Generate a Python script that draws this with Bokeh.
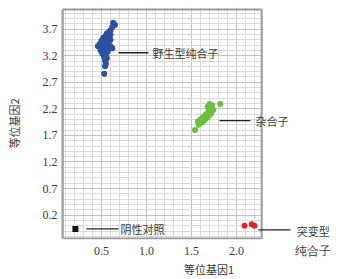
from bokeh.plotting import figure
from bokeh.models import FixedTicker, Label, Arrow, Range1d, BoxAnnotation, NumeralTickFormatter
from bokeh.embed import file_html
from bokeh.resources import INLINE
import numpy as np

# ---- data ----
wild_x = [0.63, 0.65, 0.62, 0.60, 0.58, 0.56, 0.60, 0.55, 0.58, 0.52, 0.56, 0.60, 0.50, 0.54,
          0.58, 0.48, 0.52, 0.56, 0.60, 0.46, 0.50, 0.54, 0.58, 0.62, 0.49, 0.53, 0.57, 0.51,
          0.55, 0.53, 0.56, 0.54, 0.55, 0.54, 0.53]
wild_y = [3.82, 3.78, 3.74, 3.68, 3.64, 3.62, 3.60, 3.58, 3.56, 3.54, 3.52, 3.50, 3.48, 3.46,
          3.45, 3.42, 3.40, 3.40, 3.38, 3.38, 3.36, 3.34, 3.33, 3.34, 3.30, 3.29, 3.28, 3.24,
          3.22, 3.18, 3.15, 3.10, 3.05, 3.00, 2.86]
het_x = [1.54, 1.58, 1.60, 1.57, 1.62, 1.64, 1.60, 1.66, 1.63, 1.68, 1.70, 1.66, 1.72, 1.69,
         1.74, 1.71, 1.68, 1.70, 1.73, 1.82]
het_y = [1.80, 1.90, 1.94, 1.96, 1.95, 1.98, 2.00, 2.02, 2.05, 2.04, 2.08, 2.10, 2.12, 2.15,
         2.18, 2.21, 2.24, 2.29, 2.27, 2.29]
mut_x = [2.09, 2.17, 2.20]
mut_y = [0.00, 0.03, 0.00]
neg_x = [0.21]
neg_y = [-0.06]

x_ticks = [0.5, 1.0, 1.5, 2.0]
y_ticks = [0.2, 0.7, 1.2, 1.7, 2.2, 2.7, 3.2, 3.7]
x_label = "等位基因1"
y_label = "等位基因2"
group_names = ["野生型纯合子", "杂合子", "突变型", "纯合子", "阴性对照"]

CJK = "Noto Sans CJK SC"
NUM = "Liberation Serif"
TXT = "#3a3a3a"
BORDER = "#9a9a9a"

# plotting box in data units; the frame extends to the right to host the labels
X0, X1 = 0.067, 2.28
Y0, Y1 = -0.24, 4.07
PX_X = 90.0   # px per x unit
PX_Y = 54.0   # px per y unit
SECOND_LINE_X = 2.845   # where the second line of the mutant label sits (below the box)

p = figure(width=355, height=279, output_backend="svg", toolbar_location=None,
           x_range=Range1d(X0, X0 + 293 / PX_X),
           y_range=Range1d(Y0 - 1 / PX_Y, Y1 + 2 / PX_Y),
           min_border_left=62, min_border_right=0, min_border_top=7, min_border_bottom=36)
p.outline_line_color = None

# grid
xminor = [round(v, 1) for v in np.arange(0.1, 2.3, 0.1)]
yminor = [round(v, 1) for v in np.arange(-0.2, 4.1, 0.1)]
p.xaxis.ticker = FixedTicker(ticks=x_ticks + [SECOND_LINE_X], minor_ticks=xminor)
p.yaxis.ticker = FixedTicker(ticks=y_ticks, minor_ticks=yminor)
p.xgrid.ticker = p.xaxis.ticker
p.ygrid.ticker = p.yaxis.ticker
for g in (p.xgrid, p.ygrid):
    g.grid_line_color = "#c4c4c4"
    g.grid_line_width = 1
    g.minor_grid_line_color = "#dadada"
    g.minor_grid_line_width = 1

p.yaxis.bounds = (Y0, Y1)
p.xaxis.formatter = NumeralTickFormatter(format="0.0")
p.xaxis.major_label_overrides = {SECOND_LINE_X: group_names[3]}
for ax in (p.xaxis, p.yaxis):
    ax.axis_line_color = BORDER
    ax.axis_line_width = 2
    ax.major_tick_line_color = None
    ax.minor_tick_line_color = None
    ax.major_tick_out = 0
    ax.minor_tick_out = 0
    ax.major_label_text_font = NUM
    ax.major_label_text_font_size = "12px"
    ax.major_label_text_color = TXT
    ax.axis_label_text_font = CJK
    ax.axis_label_text_font_size = "11px"
    ax.axis_label_text_font_style = "normal"
    ax.axis_label_text_color = TXT
p.xaxis.axis_line_color = None

p.xaxis.axis_label = x_label
p.yaxis.axis_label = y_label
p.xaxis.major_label_standoff = 4
p.yaxis.major_label_standoff = 5
p.xaxis.axis_label_standoff = 0
p.yaxis.axis_label_standoff = 18

# white mask right of the box, then the box border
p.add_layout(BoxAnnotation(left=X1, fill_color="white", fill_alpha=1.0, line_color=None,
                           level="underlay"))
p.add_layout(BoxAnnotation(left=X0, right=X1, bottom=Y0, top=Y1, fill_color=None,
                           fill_alpha=0, line_color=BORDER, line_width=2, line_alpha=1.0))

# points
p.scatter(wild_x, wild_y, size=6, color="#2b50a1", line_color=None)
p.scatter(het_x, het_y, size=6, color="#6dbd3f", line_color=None)
p.scatter(mut_x, mut_y, size=6, color="#e0262d", line_color=None)
p.scatter(neg_x, neg_y, size=6, marker="square", color="#111111", line_color=None)

# leader lines and labels
leaders = [
    (0.689, 1.022, 3.256, 1.067, 3.256, group_names[0]),
    (1.811, 2.156, 1.978, 2.211, 1.978, group_names[1]),
    (2.244, 2.600, -0.078, 2.670, -0.10, group_names[2]),
    (0.333, 0.689, -0.059, 0.711, -0.059, group_names[4]),
]
for x0, x1, y, tx, ty, t in leaders:
    p.add_layout(Arrow(x_start=x0, y_start=y, x_end=x1, y_end=y, start=None, end=None,
                       line_color="#222222", line_width=1.3))
    p.add_layout(Label(x=tx, y=ty, text=t, text_font=CJK, text_font_size="11px",
                       text_color=TXT, text_baseline="middle", text_align="left"))

open("out.html", "w").write(file_html(p, INLINE))
